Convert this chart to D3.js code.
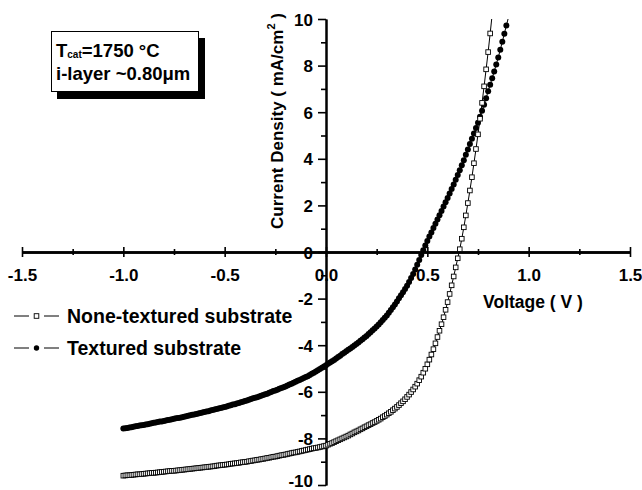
<!DOCTYPE html>
<html>
<head>
<meta charset="utf-8">
<script src="https://d3js.org/d3.v7.min.js"></script>
<style>
  body { margin: 0; background: #fff; }
  svg text { font-family: "Liberation Sans", Arial, Helvetica, sans-serif; font-weight: bold; fill: #000; }
</style>
</head>
<body>
<svg id="chart" width="642" height="490"></svg>
<script>
// Bias voltage (V), 10 mV steps
const voltage = [
  -1.00,-0.99,-0.98,-0.97,-0.96,-0.95,-0.94,-0.93,-0.92,-0.91,
  -0.90,-0.89,-0.88,-0.87,-0.86,-0.85,-0.84,-0.83,-0.82,-0.81,
  -0.80,-0.79,-0.78,-0.77,-0.76,-0.75,-0.74,-0.73,-0.72,-0.71,
  -0.70,-0.69,-0.68,-0.67,-0.66,-0.65,-0.64,-0.63,-0.62,-0.61,
  -0.60,-0.59,-0.58,-0.57,-0.56,-0.55,-0.54,-0.53,-0.52,-0.51,
  -0.50,-0.49,-0.48,-0.47,-0.46,-0.45,-0.44,-0.43,-0.42,-0.41,
  -0.40,-0.39,-0.38,-0.37,-0.36,-0.35,-0.34,-0.33,-0.32,-0.31,
  -0.30,-0.29,-0.28,-0.27,-0.26,-0.25,-0.24,-0.23,-0.22,-0.21,
  -0.20,-0.19,-0.18,-0.17,-0.16,-0.15,-0.14,-0.13,-0.12,-0.11,
  -0.10,-0.09,-0.08,-0.07,-0.06,-0.05,-0.04,-0.03,-0.02,-0.01,
  0.00,0.01,0.02,0.03,0.04,0.05,0.06,0.07,0.08,0.09,
  0.10,0.11,0.12,0.13,0.14,0.15,0.16,0.17,0.18,0.19,
  0.20,0.21,0.22,0.23,0.24,0.25,0.26,0.27,0.28,0.29,
  0.30,0.31,0.32,0.33,0.34,0.35,0.36,0.37,0.38,0.39,
  0.40,0.41,0.42,0.43,0.44,0.45,0.46,0.47,0.48,0.49,
  0.50,0.51,0.52,0.53,0.54,0.55,0.56,0.57,0.58,0.59,
  0.60,0.61,0.62,0.63,0.64,0.65,0.66,0.67,0.68,0.69,
  0.70,0.71,0.72,0.73,0.74,0.75,0.76,0.77,0.78,0.79,
  0.80,0.81,0.82,0.83,0.84,0.85,0.86,0.87,0.88,0.89,
  0.90
];

// Current density (mA/cm^2), textured substrate
const jTextured = [
  -7.58,-7.56,-7.55,-7.53,-7.52,-7.50,-7.48,-7.47,-7.45,-7.44,
  -7.42,-7.40,-7.39,-7.37,-7.35,-7.33,-7.32,-7.30,-7.28,-7.27,
  -7.25,-7.23,-7.21,-7.20,-7.18,-7.16,-7.14,-7.12,-7.11,-7.09,
  -7.07,-7.05,-7.03,-7.01,-6.99,-6.97,-6.95,-6.93,-6.91,-6.89,
  -6.87,-6.85,-6.83,-6.80,-6.78,-6.76,-6.74,-6.72,-6.69,-6.67,
  -6.65,-6.63,-6.60,-6.58,-6.55,-6.53,-6.50,-6.48,-6.45,-6.43,
  -6.40,-6.37,-6.34,-6.31,-6.28,-6.26,-6.23,-6.20,-6.17,-6.14,
  -6.11,-6.08,-6.04,-6.01,-5.97,-5.94,-5.91,-5.87,-5.84,-5.80,
  -5.77,-5.73,-5.69,-5.65,-5.61,-5.57,-5.53,-5.49,-5.45,-5.41,
  -5.37,-5.33,-5.28,-5.23,-5.18,-5.13,-5.08,-5.02,-4.97,-4.91,
  -4.86,-4.80,-4.74,-4.69,-4.63,-4.57,-4.51,-4.45,-4.38,-4.32,
  -4.26,-4.20,-4.14,-4.08,-4.01,-3.95,-3.88,-3.81,-3.74,-3.67,
  -3.60,-3.52,-3.44,-3.36,-3.28,-3.20,-3.11,-3.01,-2.92,-2.82,
  -2.72,-2.61,-2.49,-2.37,-2.25,-2.12,-1.99,-1.86,-1.73,-1.59,
  -1.45,-1.29,-1.12,-0.94,-0.75,-0.55,-0.34,-0.13,0.08,0.28,
  0.47,0.66,0.84,1.03,1.21,1.40,1.58,1.76,1.95,2.13,
  2.32,2.51,2.70,2.90,3.10,3.30,3.51,3.72,3.94,4.17,
  4.40,4.63,4.86,5.09,5.32,5.55,5.80,6.06,6.32,6.60,
  6.90,7.18,7.46,7.75,8.05,8.35,8.68,9.02,9.37,9.72,
  10.06
];

// Current density (mA/cm^2), none-textured substrate
const jNoneTextured = [
  -9.60,-9.59,-9.58,-9.58,-9.57,-9.56,-9.55,-9.54,-9.54,-9.53,
  -9.52,-9.51,-9.50,-9.49,-9.48,-9.48,-9.47,-9.46,-9.45,-9.44,
  -9.43,-9.42,-9.41,-9.40,-9.39,-9.39,-9.38,-9.37,-9.36,-9.35,
  -9.34,-9.33,-9.32,-9.31,-9.30,-9.29,-9.28,-9.27,-9.26,-9.25,
  -9.24,-9.23,-9.22,-9.21,-9.20,-9.19,-9.17,-9.16,-9.15,-9.14,
  -9.13,-9.12,-9.11,-9.09,-9.08,-9.07,-9.06,-9.05,-9.03,-9.02,
  -9.01,-9.00,-8.98,-8.97,-8.95,-8.94,-8.92,-8.91,-8.89,-8.88,
  -8.86,-8.84,-8.83,-8.81,-8.79,-8.78,-8.76,-8.74,-8.72,-8.71,
  -8.69,-8.67,-8.65,-8.63,-8.61,-8.60,-8.58,-8.56,-8.54,-8.52,
  -8.50,-8.48,-8.46,-8.44,-8.42,-8.41,-8.39,-8.37,-8.35,-8.33,
  -8.31,-8.27,-8.23,-8.20,-8.16,-8.12,-8.08,-8.04,-8.00,-7.96,
  -7.92,-7.88,-7.83,-7.79,-7.74,-7.70,-7.66,-7.61,-7.57,-7.52,
  -7.48,-7.43,-7.39,-7.34,-7.30,-7.25,-7.20,-7.15,-7.09,-7.04,
  -6.98,-6.92,-6.86,-6.79,-6.72,-6.65,-6.57,-6.49,-6.41,-6.32,
  -6.22,-6.12,-6.01,-5.90,-5.78,-5.65,-5.50,-5.35,-5.18,-5.01,
  -4.82,-4.62,-4.40,-4.17,-3.92,-3.65,-3.38,-3.10,-2.80,-2.48,
  -2.15,-1.80,-1.43,-1.05,-0.66,-0.27,0.12,0.57,1.06,1.57,
  2.10,2.64,3.21,3.81,4.42,5.05,5.72,6.40,7.11,7.84,
  8.58,9.38,10.20
];

const seriesNames = ["None-textured substrate", "Textured substrate"];
const xTicks = [-1.5, -1.0, -0.5, 0.0, 0.5, 1.0, 1.5];
const xMinorTicks = [-1.25, -0.75, -0.25, 0.25, 0.75, 1.25];
const yTicks = [-10, -8, -6, -4, -2, 0, 2, 4, 6, 8, 10];
const yMinorTicks = [-9, -7, -5, -3, -1, 1, 3, 5, 7, 9];
const xTitle = "Voltage ( V )";
const conditionLines = ["1750 °C", "i-layer ~0.80\u03bcm"];

const svg = d3.select("#chart");
const x = d3.scaleLinear().domain([-1.5, 1.5]).range([22, 630]);
const y = d3.scaleLinear().domain([-10, 10]).range([485, 19]);

const toPoints = (js) => js.map((j, i) => ({ v: voltage[i], j }));
const textured = toPoints(jTextured);
const noneTextured = toPoints(jNoneTextured);

svg.append("defs").append("clipPath").attr("id", "plotClip")
  .append("rect")
  .attr("x", x(-1.5)).attr("y", y(10))
  .attr("width", x(1.5) - x(-1.5)).attr("height", y(-10) - y(10));

// ---- axes crossing at the origin ----
const xAxisG = svg.append("g").attr("transform", `translate(0,${y(0)})`);
xAxisG.call(d3.axisBottom(x).tickValues(xTicks).tickSizeInner(5).tickSizeOuter(0)
  .tickPadding(12).tickFormat(d => d.toFixed(1)));
xAxisG.call(g => g.selectAll(".tick text").attr("font-size", 17));
xAxisG.append("g").call(d3.axisBottom(x).tickValues(xTicks).tickSizeInner(-5).tickSizeOuter(0).tickFormat(""));
xAxisG.append("g").call(d3.axisBottom(x).tickValues(xMinorTicks).tickSizeInner(3).tickSizeOuter(0).tickFormat(""));
xAxisG.append("g").call(d3.axisBottom(x).tickValues(xMinorTicks).tickSizeInner(-3).tickSizeOuter(0).tickFormat(""));

const yAxisG = svg.append("g").attr("transform", `translate(${x(0)},0)`);
yAxisG.call(d3.axisLeft(y).tickValues(yTicks).tickSizeInner(8).tickSizeOuter(0)
  .tickPadding(5).tickFormat(d => String(d)));
// the lowest label sits a little higher so it stays inside the frame
yAxisG.call(g => g.selectAll(".tick text").attr("font-size", 17)
  .attr("dy", d => d === -10 ? "0.06em" : "0.36em"));
yAxisG.append("g").call(d3.axisLeft(y).tickValues(yMinorTicks).tickSizeInner(5).tickSizeOuter(0).tickFormat(""));

svg.selectAll(".domain").attr("stroke", "#000").attr("stroke-width", 2);
svg.selectAll(".tick line").attr("stroke", "#000").attr("stroke-width", 1.6);
svg.selectAll("g[font-family]").attr("font-family", null);

// ---- axis titles ----
svg.append("text").attr("x", 533).attr("y", 308).attr("text-anchor", "middle")
  .attr("font-size", 17.5).text(xTitle);

const yTitle = svg.append("text")
  .attr("transform", `translate(283,121) rotate(-90)`)
  .attr("text-anchor", "middle").attr("font-size", 17);
yTitle.append("tspan").text("Current Density ( mA/cm");
yTitle.append("tspan").attr("font-size", 11).attr("dy", -8).text("2");
yTitle.append("tspan").attr("dy", 8).text(" )");

// ---- data ----
const line = d3.line().x(d => x(d.v)).y(d => y(d.j));
const plot = svg.append("g").attr("clip-path", "url(#plotClip)");

plot.append("path").datum(textured).attr("d", line)
  .attr("fill", "none").attr("stroke", "#000").attr("stroke-width", 1);
plot.selectAll("circle.tex").data(textured.filter(d => d.j <= 10)).join("circle")
  .attr("class", "tex").attr("cx", d => x(d.v)).attr("cy", d => y(d.j))
  .attr("r", 3).attr("fill", "#000");

plot.append("path").datum(noneTextured).attr("d", line)
  .attr("fill", "none").attr("stroke", "#000").attr("stroke-width", 1);
const sq = 4.6;
plot.selectAll("rect.non").data(noneTextured.filter(d => d.j <= 10)).join("rect")
  .attr("class", "non").attr("x", d => x(d.v) - sq / 2).attr("y", d => y(d.j) - sq / 2)
  .attr("width", sq).attr("height", sq)
  .attr("fill", "#fff").attr("stroke", "#000").attr("stroke-width", 0.9);

// ---- series legend ----
const legend = svg.append("g");
const legendRows = [
  { name: seriesNames[0], cy: 316, base: 323, marker: "square" },
  { name: seriesNames[1], cy: 348, base: 355, marker: "circle" }
];
legendRows.forEach(r => {
  legend.append("line").attr("x1", 14).attr("x2", 29).attr("y1", r.cy).attr("y2", r.cy)
    .attr("stroke", "#000").attr("stroke-width", 1);
  legend.append("line").attr("x1", 44).attr("x2", 59).attr("y1", r.cy).attr("y2", r.cy)
    .attr("stroke", "#000").attr("stroke-width", 1);
  if (r.marker === "square") {
    legend.append("rect").attr("x", 36.5 - sq / 2).attr("y", r.cy - sq / 2)
      .attr("width", sq).attr("height", sq)
      .attr("fill", "#fff").attr("stroke", "#000").attr("stroke-width", 0.9);
  } else {
    legend.append("circle").attr("cx", 36.5).attr("cy", r.cy).attr("r", 2.7).attr("fill", "#000");
  }
  legend.append("text").attr("x", 67).attr("y", r.base).attr("font-size", 19.5).text(r.name);
});

// ---- deposition condition box with drop shadow ----
const box = svg.append("g");
box.append("rect").attr("x", 57).attr("y", 38).attr("width", 148).attr("height", 61).attr("fill", "#000");
box.append("rect").attr("x", 51.5).attr("y", 31.5).attr("width", 147).attr("height", 60)
  .attr("fill", "#fff").attr("stroke", "#000").attr("stroke-width", 1);
const t1 = box.append("text").attr("x", 56).attr("y", 57).attr("font-size", 18.5);
t1.append("tspan").text("T");
t1.append("tspan").attr("font-size", 10).attr("dy", 1).text("cat");
t1.append("tspan").attr("dy", -1).text("=" + conditionLines[0]);
box.append("text").attr("x", 56).attr("y", 80).attr("font-size", 18.5).text(conditionLines[1]);
</script>
</body>
</html>
